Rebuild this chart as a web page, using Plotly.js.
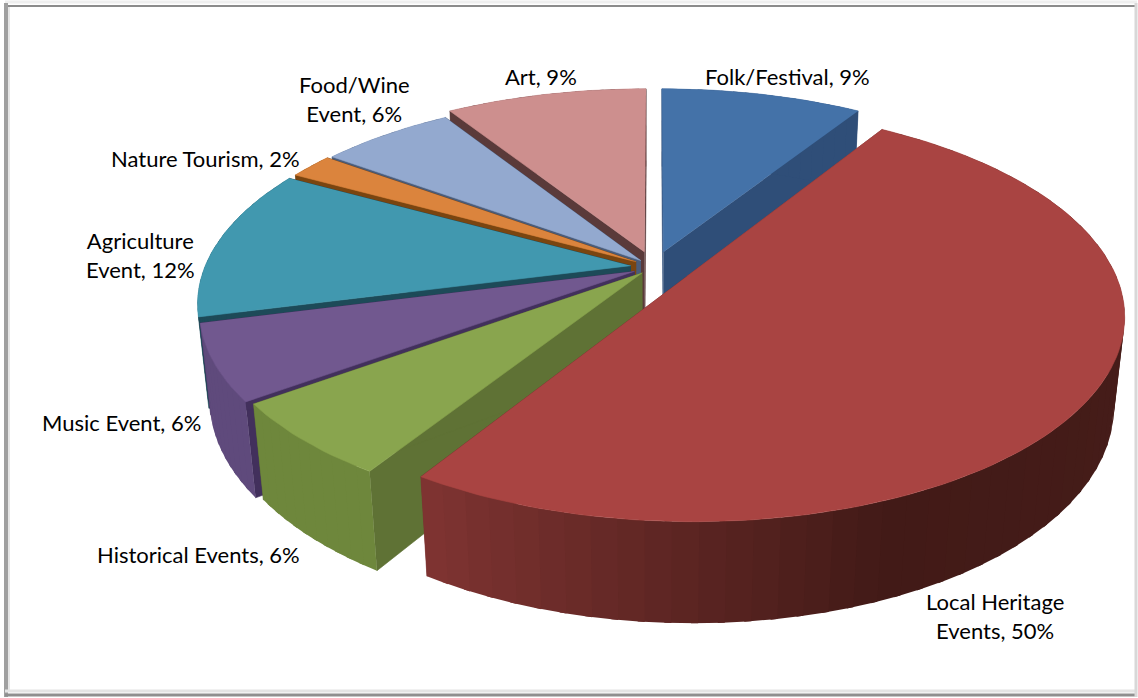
<!DOCTYPE html>
<html><head><meta charset="utf-8">
<script src="https://cdn.plot.ly/plotly-3.0.1.min.js"></script>
<style>html,body{margin:0;padding:0;background:#fff}#c{width:1138px;height:698px}</style>
</head><body><div id="c"></div>
<script>
const categories = ["Folk/Festival","Local Heritage Events","Historical Events","Music Event","Agriculture Event","Nature Tourism","Food/Wine Event","Art"];
const values = [9,50,6,6,12,2,6,9];
const labelLines = ["Folk/Festival, 9%","Local Heritage<br>Events, 50%","Historical Events, 6%","Music Event, 6%","Agriculture<br>Event, 12%","Nature Tourism, 2%","Food/Wine<br>Event, 6%","Art, 9%"];
const labelX = [787,995,198,121,140,205,354,541];
const labelY = [76,616,554,422,255,158,99,76];
const topColors = ["#4472a8","#a94442","#89a54e","#71588f","#4198af","#db843d","#93a9cf","#cd8f8e"];
const cutColors = ["#2f4e78","#7a3030","#5f7235","#42305c","#1d4a58","#7a4510","#4a5c7a","#5a3a3a"];
const wallColors = ["#2f4e78",null,"#6e873c","#5f4a7c","#1d4a58","#7a4510","#4a5c7a","#5a3a3a"];
const pulls = [0.08,0.09,0.04,0.05,0.055,0.05,0.045,0.08];
const drawOrder = [7,0,6,5,4,3,2,1];

const cam = {cx:654,cy:267,S:426,phi:27.6,D:4.95,H:0.24};
const sf = Math.sin(cam.phi*Math.PI/180), cf = Math.cos(cam.phi*Math.PI/180);
const rad = d => d*Math.PI/180;
function proj(theta,r,z,pull,mid){
  const X = r*Math.sin(rad(theta)) + pull*Math.sin(rad(mid));
  const Y = r*Math.cos(rad(theta)) + pull*Math.cos(rad(mid));
  const d = Y*cf + z*sf;
  const f = cam.D/(cam.D+d);
  return [cam.cx + cam.S*X*f, cam.cy - cam.S*(Y*sf - z*cf)*f];
}
const total = values.reduce((a,b)=>a+b,0);
let acc = 0;
const spans = values.map(v=>{const s=[acc/total*360,(acc+v)/total*360];acc+=v;return s;});
function poly(pts,color,lw){
  return {type:"scatter",mode:"lines",x:pts.map(p=>p[0]),y:pts.map(p=>p[1]),fill:"toself",fillcolor:color,
    line:{color:color,width:lw===undefined?0.6:lw},hoverinfo:"skip",showlegend:false};
}
function lerpHex(a,b,t){
  const pa=[1,3,5].map(i=>parseInt(a.substr(i,2),16)), pb=[1,3,5].map(i=>parseInt(b.substr(i,2),16));
  return "rgb("+pa.map((c,i)=>Math.round(c+(pb[i]-c)*t)).join(",")+")";
}
const traces = [];
drawOrder.forEach(i=>{
  const [a0,a1] = spans[i], mid=(a0+a1)/2, p=pulls[i], H=cam.H;
  const P=(t,r,z)=>proj(t,r,z,p,mid);
  traces.push(poly([P(a0,0,0),P(a0,1,0),P(a0,1,H),P(a0,0,H)],cutColors[i]));
  traces.push(poly([P(a1,0,0),P(a1,1,0),P(a1,1,H),P(a1,0,H)],cutColors[i]));
  const n = i===1?60:Math.max(4,Math.ceil((a1-a0)/2));
  for(let k=0;k<n;k++){
    const t0=a0+(a1-a0)*k/n, t1=Math.min(a1,a0+(a1-a0)*(k+1)/n+0.8);
    let col=wallColors[i];
    if(i===1){
      const u=(k+0.5)/n;
      col = u<0.7 ? lerpHex("#4b201c","#421a17",u/0.7) : lerpHex("#421a17","#803432",(u-0.7)/0.3);
    }
    traces.push(poly([P(t0,1,0),P(t1,1,0),P(t1,1,H),P(t0,1,H)],col,0));
  }
  const top=[P(a0,0,0)];
  const m=Math.ceil((a1-a0)/1.5);
  for(let k=0;k<=m;k++) top.push(P(a0+(a1-a0)*k/m,1,0));
  traces.push(poly(top,topColors[i]));
});
const frame=(x0,y0,x1,y1,c,w)=>({type:"line",xref:"x",yref:"y",x0,y0,x1,y1,line:{color:c,width:w}});
const layout={width:1138,height:698,margin:{l:0,r:0,t:0,b:0},paper_bgcolor:"#fff",plot_bgcolor:"#fff",showlegend:false,
  xaxis:{range:[0,1138],visible:false,fixedrange:true},
  yaxis:{range:[698,0],visible:false,fixedrange:true},
  shapes:[
    frame(5,6,1137,6,"#8c8c8c",2),frame(5,2,1137,2,"#efefef",3),
    frame(6,3,6,697,"#a0a0a0",4),frame(9,7,9,692,"#e6e6e6",2),
    frame(5,695,1137,695,"#8f8f8f",3),frame(5,691,1137,691,"#e4e4e4",3),
    frame(1136,3,1136,697,"#d8d8d8",3)
  ],
  annotations:labelLines.map((t,i)=>({text:t,x:labelX[i],y:labelY[i],xref:"x",yref:"y",showarrow:false,align:"center",
    xanchor:"center",yanchor:"middle",font:{family:"Lato, sans-serif",size:22,color:"#000"}}))
};
Plotly.newPlot("c",traces,layout,{displayModeBar:false,staticPlot:true});
</script></body></html>
